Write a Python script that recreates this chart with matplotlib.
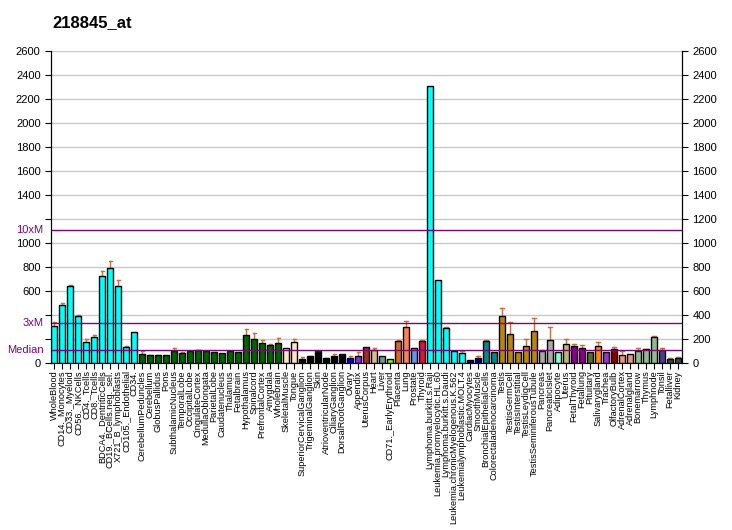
import matplotlib
matplotlib.use("Agg")
import matplotlib.pyplot as plt
import numpy as np

plt.rcParams['font.family'] = ['Liberation Sans', 'DejaVu Sans']

# tissues, expression values and error-bar tops
tissues = ["WholeBlood", "CD14._Monocytes", "CD33._Myeloid", "CD56._NKCells", "CD4._Tcells",
           "CD8._Tcells", "BDCA4._DentriticCells", "CD19._BCells.neg._sel.", "X721_B_lymphoblasts",
           "CD105._Endothelial", "CD34.", "CerebellumPeduncles", "Cerebellum", "GlobusPallidus",
           "Pons", "SubthalamicNucleus", "TemporalLobe", "OccipitalLobe", "CingulateCortex",
           "MedullaOblongata", "ParietalLobe", "Caudatenucleus", "Thalamus", "Fetalbrain",
           "Hypothalamus", "Spinalcord", "PrefrontalCortex", "Amygdala", "Wholebrain",
           "SkeletalMuscle", "Tongue", "SuperiorCervicalGanglion", "TrigeminalGanglion", "Skin",
           "AtrioventricularNode", "CiliaryGanglion", "DorsalRootGanglion", "Ovary", "Appendix",
           "UterusCorpus", "Heart", "Liver", "CD71._EarlyErythroid", "Placenta", "Lung",
           "Prostate", "Thyroid", "Lymphoma.burkitt.s.Raji", "Leukemia.promyelocytic.HL.60",
           "Lymphoma.burkitt.s.Daudi", "Leukemia.chronicMyelogenous.K.562",
           "Leukemialymphoblastic.MOLT.4", "CardiacMyocytes", "SmoothMuscle",
           "BronchialEpithelialCells", "Colorectaladenocarcinoma", "Testis", "TestisGermCell",
           "TestisInterstitial", "TestisLeydigCell", "TestisSeminiferousTubule", "Pancreas",
           "PancreaticIslet", "Adipocyte", "Uterus", "FetalThyroid", "Fetallung", "Pituitary",
           "Salivarygland", "Trachea", "OlfactoryBulb", "AdrenalCortex", "Adrenalgland",
           "Bonemarrow", "Thymus", "Lymphnode", "Tonsil", "Fetalliver", "Kidney"]

values = [308, 483, 641, 391, 175, 217, 725, 792, 641, 133, 258,
          75, 67, 67, 67, 100, 83, 100, 108, 100, 92, 83, 100, 92,
          233, 200, 167, 150, 167,
          125, 175, 33, 58, 100, 42, 58, 75, 42, 58, 133, 108, 58, 33,
          183, 300, 125, 183, 2310, 692, 292, 100, 83, 25, 42, 183, 92,
          392, 242, 92, 142, 267, 100, 192, 92, 158, 142, 125, 92, 142,
          92, 117, 67, 75, 100, 117, 217, 108, 33, 42]

err_top = [342, 500, 650, 400, 202, 233, 767, 850, 692, 142, None,
           105, 69, 69, None, 125, 97, None, 112, None, 96, None, None, None,
           283, 250, 192, 158, 208,
           None, 200, 50, 62, None, 46, 75, None, 58, 92, None, 125, None, None,
           192, 350, None, 192, None, None, 300, None, 100, None, 58, 192, None,
           458, 342, None, 200, 375, 108, 300, None, 200, 158, 150, None, 175,
           None, 133, 100, None, 125, 121, 225, 125, 42, 50]

colors = (["#00FFFF"] * 11 + ["#006400"] * 18 + ["#FFE4C4"] * 2 + ["#000000"] * 6 +
          ["#0000FF", "#8A2BE2", "#A52A2A", "#DEB887", "#5F9EA0", "#7FFF00", "#D2691E",
           "#FF7F50", "#6495ED", "#DC143C"] + ["#00FFFF"] * 5 + ["#00008B"] * 2 +
          ["#008B8B"] * 2 + ["#B8860B"] * 5 + ["#A9A9A9"] * 2 +
          ["#7FFFD4", "#BDB76B", "#8B008B", "#8B008B", "#556B2F", "#FF8C00", "#9932CC",
           "#8B0000", "#E9967A", "#E9967A", "#8FBC8F", "#8FBC8F", "#8FBC8F", "#483D8B",
           "#2F4F4F", "#2F4F4F"])

median = 111

fig = plt.figure(figsize=(7.32, 5.30), dpi=100)
ax = fig.add_axes([0.0697, 0.3145, 0.862, 0.5893])

x = np.arange(len(tissues))
ax.bar(x, values, width=0.75, color=colors, edgecolor="black", linewidth=1.0, zorder=3)

# error bars (upper side only)
for xi, v, e in zip(x, values, err_top):
    if e is not None:
        ax.plot([xi, xi], [v, e], color="#C8703C", linewidth=1, zorder=2)
        ax.plot([xi - 0.2, xi + 0.2], [e, e], color="#C8703C", linewidth=1, zorder=2)

for g in range(200, 2601, 200):
    ax.axhline(g, color="#C8C8C8", linewidth=1, zorder=1)
for m in [median, 3 * median, 10 * median]:
    ax.axhline(m, color="#800080", linewidth=1, zorder=4)

ax.set_xlim(-0.4, 78.5)
ax.set_ylim(0, 2600)

ax.set_xticks(x)
ax.set_xticklabels(tissues, rotation=90, fontsize=6.6)
ax.tick_params(axis="x", length=4, pad=1)

yt = list(range(0, 2601, 200))
ax.set_yticks(yt)
ax.set_yticklabels(["" if t in (200, 400, 1200) else str(t) for t in yt], fontsize=8)
ax.tick_params(axis="y", length=4)
for lab, val in [("Median", median), ("3xM", 3 * median), ("10xM", 10 * median)]:
    ax.text(-0.012, val, lab, color="#800080", fontsize=8, ha="right", va="center",
            transform=ax.get_yaxis_transform())

ax2 = ax.twinx()
ax2.set_ylim(0, 2600)
ax2.set_yticks(yt)
ax2.set_yticklabels([str(t) for t in yt], fontsize=8)
ax2.tick_params(axis="y", length=4)

for a in (ax, ax2):
    a.spines["top"].set_visible(False)

fig.text(0.072, 0.958, "218845_at", fontsize=12, fontweight="bold", ha="left", va="center")

fig.savefig("out.png", dpi=100)
